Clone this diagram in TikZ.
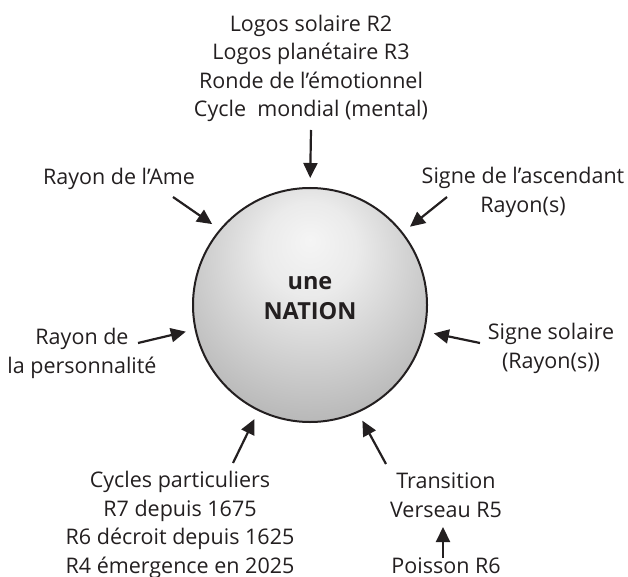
\documentclass[tikz,border=0pt]{standalone}
\usepackage{fontspec}
\setmainfont{Open Sans}
\usetikzlibrary{arrows.meta}
\definecolor{ink}{HTML}{231F20}
\pgfdeclareradialshading{sphereshade}{\pgfpoint{0bp}{14bp}}{%
  color(0bp)=(black!4);
  color(10bp)=(black!8);
  color(35bp)=(black!30);
  color(55bp)=(black!50);
  color(70bp)=(black!58)}
\begin{document}
\begin{tikzpicture}[x=1pt,y=-1pt,
  lbl/.style={text=ink,align=center,inner sep=0pt,anchor=base,
    font=\fontsize{21.5}{28.5}\selectfont},
  arr/.style={draw=ink,line width=2.2pt,
    -{Triangle[length=15pt,width=14pt]},shorten >=10pt}]
\useasboundingbox (0,0) rectangle (628,577);
% sphere
\node[circle,minimum size=234pt,inner sep=0pt,outer sep=0pt,
  shading=sphereshade,draw=ink,line width=2pt] (circ) at (310,305) {};
\node[text=ink,align=center,inner sep=0pt,
  font=\fontsize{23.5}{30}\selectfont\bfseries] (nation) at (310,298) {une\\NATION};
% labels (base anchor = baseline of the last line)
\node[lbl] (top) at (311,117) {Logos solaire R2\\Logos planétaire R3\\Ronde de l’émotionnel\\Cycle\ \ mondial (mental)};
\node[lbl] (ame) at (119,185) {Rayon de l’Ame};
\node[lbl] (asc) at (523,212) {Signe de l’ascendant\\Rayon(s)};
\node[lbl] (pers) at (82,373) {Rayon de\\la personnalité};
\node[lbl] (sol) at (551,368) {Signe solaire\\(Rayon(s))};
\node[lbl] (cyc) at (180,573) {Cycles particuliers\\R7 depuis 1675\\R6 décroit depuis 1625\\R4 émergence en 2025};
\node[lbl] (trans) at (446,517) {Transition\\Verseau R5};
\node[lbl] (pois) at (446,573) {Poisson R6};
% arrow tails
\coordinate (tTop) at (311,130);
\coordinate (tAme) at (173,197);
\coordinate (tAsc) at (447,197);
\coordinate (tPers) at (138,343);
\coordinate (tSol) at (480,343);
\coordinate (tCyc) at (233,463);
\coordinate (tTrans) at (386,464);
\coordinate (tPois) at (443,558);
\coordinate (hPois) at (443,517);
% arrows
\draw[arr] (tTop) -- (circ.90);
\draw[arr] (tAme) -- (circ.140.8);
\draw[arr] (tAsc) -- (circ.38.2);
\draw[arr] (tPers) -- (circ.192.7);
\draw[arr] (tSol) -- (circ.-13.3);
\draw[arr] (tCyc) -- (circ.244.4);
\draw[arr] (tTrans) -- (circ.294.6);
\draw[arr] (tPois) -- (hPois);
\end{tikzpicture}
\end{document}
